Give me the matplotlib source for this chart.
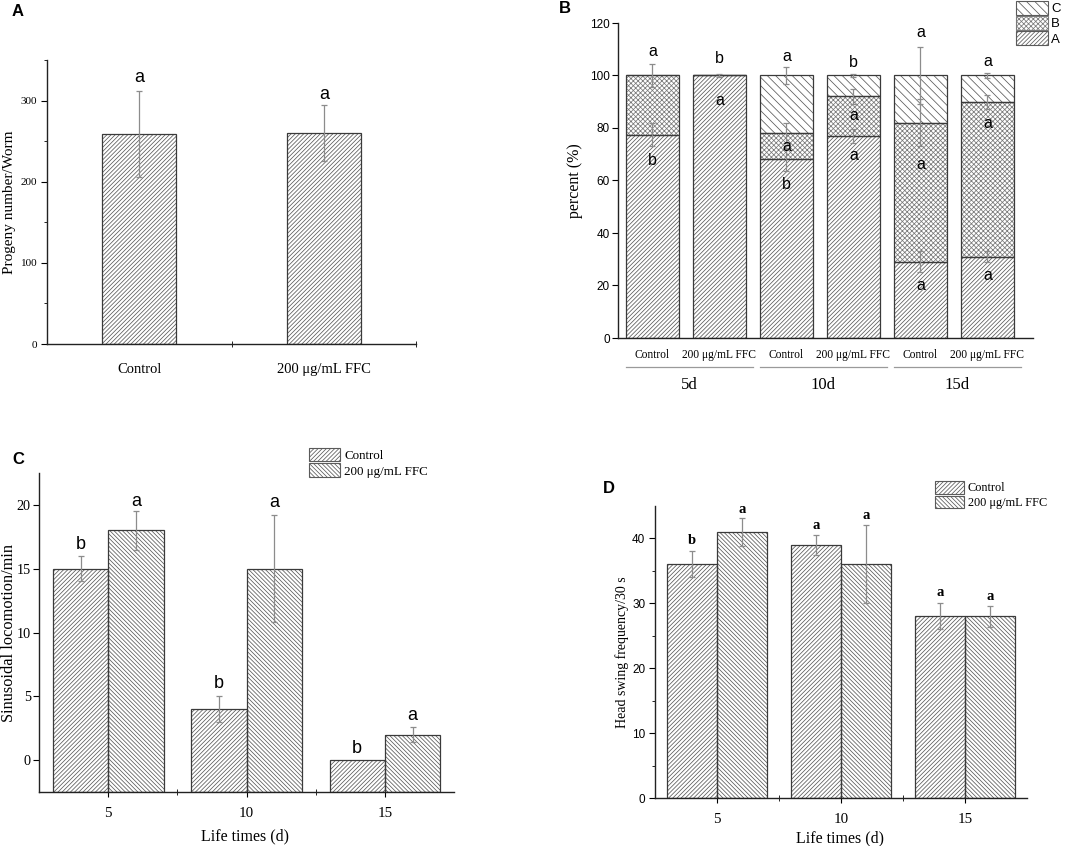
import matplotlib
matplotlib.use("Agg")
import matplotlib.pyplot as plt
from matplotlib.patches import Patch
from matplotlib.ticker import FixedLocator
import matplotlib.transforms as mtransforms

SERIF = "Liberation Serif"
SANS = "Liberation Sans"
plt.rcParams["font.family"] = [SERIF, "DejaVu Serif"]
plt.rcParams["hatch.linewidth"] = 0.55

HATCH_COL = "#5a5a5a"
CROSS_COL = "#7a7a7a"
EDGE_COL = "#3a3a3a"
ERR_COL = "#8c8c8c"

H_FWD = "////////"
H_BACK = "\\\\\\\\\\\\\\\\"
H_CROSS = "xxxxxxx"
H_BACK_WIDE = "\\\\\\\\"

# ---------------- data ----------------
# A: progeny
a_groups = ["Control", "200 μg/mL FFC"]
a_progeny = [259, 260]
a_err = [53, 34]
a_letters = ["a", "a"]
a_letter_y = [328, 307]

# B: stacked percent
b_labels = ["Control", "200 μg/mL FFC"] * 3
b_days = ["5d", "10d", "15d"]
b_A = [77.4, 100, 68, 77, 29, 31]
b_B = [22.6, 0, 10, 15, 53, 59]
b_C = [0, 0, 22, 8, 18, 10]
b_err_A = [4.4, 0.4, 4.2, 2.8, 4.0, 2.2]
b_err_B = [4.2, 0, 3.8, 2.8, 9.0, 2.7]
b_err_C = [0, 0, 3.3, 0.5, 11.0, 1.0]
b_letters = [
    [(109, "a"), (67.8, "b")],
    [(106.5, "b"), (90.4, "a")],
    [(107.3, "a"), (72.9, "a"), (58.3, "b")],
    [(105, "b"), (84.6, "a"), (69.4, "a")],
    [(116.2, "a"), (66.2, "a"), (20.1, "a")],
    [(105.4, "a"), (81.8, "a"), (23.9, "a")],
]

# C: sinusoidal locomotion
days = [5, 10, 15]
c_control = [15, 4, 0]
c_control_err = [1, 1, 0]
c_ffc = [18, 15, 2]
c_ffc_err = [1.55, 4.2, 0.6]
c_let_control = ["b", "b", "b"]
c_let_control_y = [16.9, 6.0, 0.9]
c_let_ffc = ["a", "a", "a"]
c_let_ffc_y = [20.3, 20.2, 3.5]

# D: head swing
d_control = [36, 39, 28]
d_control_err = [2, 1.5, 2]
d_ffc = [41, 36, 28]
d_ffc_err = [2.1, 6, 1.6]
d_let_control = ["b", "a", "a"]
d_let_control_y = [39.7, 42.0, 31.6]
d_let_ffc = ["a", "a", "a"]
d_let_ffc_y = [44.4, 43.5, 31.1]

W, H = 1069, 846
fig = plt.figure(figsize=(W / 100, H / 100), dpi=100)


def px_axes(left, top, right, bottom):
    return fig.add_axes([left / W, 1 - bottom / H, (right - left) / W, (bottom - top) / H])


def hbar(ax, x, h, width, hatch, bottom=0, hcol=HATCH_COL):
    ax.bar(x, h, width, bottom=bottom, color="white", edgecolor=hcol,
           hatch=hatch, linewidth=0, zorder=1)
    ax.bar(x, h, width, bottom=bottom, fill=False, edgecolor=EDGE_COL,
           linewidth=0.9, zorder=2)


def errs(ax, x, y, e):
    ax.errorbar(x, y, yerr=e, fmt="none", ecolor=ERR_COL, elinewidth=0.9,
                capsize=2.5, capthick=0.9, zorder=3)


def style(ax):
    for s in ("top", "right"):
        ax.spines[s].set_visible(False)
    for s in ("left", "bottom"):
        ax.spines[s].set_linewidth(1.0)
        ax.spines[s].set_color("#222222")


# ---------------- A ----------------
ax = px_axes(47, 60, 416, 344)
style(ax)
xa = list(range(len(a_groups)))
hbar(ax, xa, a_progeny, 0.4, H_FWD)
errs(ax, xa, a_progeny, a_err)
for x, y, t in zip(xa, a_letter_y, a_letters):
    ax.text(x, y, t, ha="center", va="center", family=SANS, fontsize=13)
ax.set_xlim(-0.5, 1.5)
ax.set_ylim(0, 350)
ax.set_xticks(xa)
ax.set_xticklabels(a_groups, fontsize=10.5)
ax.xaxis.set_minor_locator(FixedLocator([0.5, 1.5]))
ax.tick_params(axis="x", which="major", length=0, pad=14)
ax.tick_params(axis="x", which="minor", length=5, direction="inout")
ax.set_yticks([0, 100, 200, 300])
ax.yaxis.set_minor_locator(FixedLocator([50, 150, 250, 350]))
ax.tick_params(axis="y", which="major", length=4, labelsize=8, pad=3)
ax.tick_params(axis="y", which="minor", length=2)
ax.set_ylabel("Progeny number/Worm", fontsize=11)
ax.yaxis.set_label_coords(-0.083, 0.5)
fig.text(12 / W, 1 - 4 / H, "A", family=SANS, fontweight="bold", fontsize=12, va="top")

# ---------------- B ----------------
ax = px_axes(618, 23, 1033, 338)
style(ax)
xb = list(range(len(b_labels)))
top_A = b_A
top_B = [a + b for a, b in zip(b_A, b_B)]
top_C = [a + b + c for a, b, c in zip(b_A, b_B, b_C)]
hbar(ax, xb, b_A, 0.8, H_FWD)
hbar(ax, xb, b_B, 0.8, H_CROSS, bottom=b_A, hcol=CROSS_COL)
hbar(ax, xb, b_C, 0.8, H_BACK_WIDE, bottom=top_B)
for tops, e in ((top_A, b_err_A), (top_B, b_err_B), (top_C, b_err_C)):
    xs = [x for x, v in zip(xb, e) if v > 0]
    ys = [t for t, v in zip(tops, e) if v > 0]
    es = [v for v in e if v > 0]
    errs(ax, xs, ys, es)
for x, lets in zip(xb, b_letters):
    for y, t in lets:
        ax.text(x, y, t, ha="center", va="center", family=SANS, fontsize=11.5, zorder=4)
ax.set_xlim(-0.515, 5.68)
ax.set_ylim(0, 120)
ax.set_yticks(range(0, 121, 20))
ax.tick_params(axis="y", length=4, labelsize=8.5, pad=2)
for lab in ax.get_yticklabels():
    lab.set_family(SANS)
ax.set_xticks(xb)
ax.set_xticklabels(b_labels, fontsize=8.3)
ax.tick_params(axis="x", length=0, pad=8)
ax.set_ylabel("percent (%)", fontsize=11.5)
ax.yaxis.set_label_coords(-0.084, 0.5)
trans = mtransforms.blended_transform_factory(ax.transData, ax.transAxes)
for g, d in enumerate(b_days):
    x0 = 2 * g - 0.4
    x1 = 2 * g + 1.5
    ax.plot([x0, x1], [-0.092, -0.092], transform=trans, color="#9a9a9a",
            lw=0.9, clip_on=False)
    ax.text((x0 + x1) / 2, -0.125, d, transform=trans, ha="center", va="top",
            fontsize=12)
legend_handles = [
    Patch(facecolor="white", edgecolor=HATCH_COL, hatch=H_BACK_WIDE, lw=0.8),
    Patch(facecolor="white", edgecolor=CROSS_COL, hatch=H_CROSS, lw=0.8),
    Patch(facecolor="white", edgecolor=HATCH_COL, hatch=H_FWD, lw=0.8),
]
fig.legend(legend_handles, ["C", "B", "A"], loc="upper left",
           bbox_to_anchor=(1016 / W, 1 - 1 / H), frameon=False,
           prop={"family": SANS, "size": 9.5}, handlelength=2.4,
           handleheight=1.25, labelspacing=0.05, borderpad=0,
           borderaxespad=0, handletextpad=0.25)
fig.text(559 / W, 1 - 1 / H, "B", family=SANS, fontweight="bold", fontsize=12, va="top")

# ---------------- C and D ----------------


def grouped(ax, ctrl, ctrl_err, ffc, ffc_err, lc, lcy, lf, lfy, let_font, base):
    # bars rise from the bottom of the axis, as in the original software
    xc = [d - 1 for d in days]
    xf = [d + 1 for d in days]
    hbar(ax, xc, [v - base for v in ctrl], 2, H_FWD, bottom=base)
    hbar(ax, xf, [v - base for v in ffc], 2, H_BACK, bottom=base)
    ce = [(x, y, e) for x, y, e in zip(xc, ctrl, ctrl_err) if e > 0]
    errs(ax, [c[0] for c in ce], [c[1] for c in ce], [c[2] for c in ce])
    errs(ax, xf, ffc, ffc_err)
    for x, y, t in zip(xc, lcy, lc):
        ax.text(x, y, t, ha="center", va="center", zorder=4, **let_font)
    for x, y, t in zip(xf, lfy, lf):
        ax.text(x, y, t, ha="center", va="center", zorder=4, **let_font)
    ax.set_xlim(2.5, 17.5)
    ax.set_xticks(days)
    ax.xaxis.set_minor_locator(FixedLocator([7.5, 12.5]))
    ax.tick_params(axis="x", which="major", length=3.5, labelsize=10.8, pad=7.5)
    ax.tick_params(axis="x", which="minor", length=5, direction="inout")
    ax.set_xlabel("Life times (d)", fontsize=11.5)


def grp_legend(anchor, size):
    hs = [
        Patch(facecolor="white", edgecolor=HATCH_COL, hatch=H_FWD, lw=0.8),
        Patch(facecolor="white", edgecolor=HATCH_COL, hatch=H_BACK, lw=0.8),
    ]
    fig.legend(hs, ["Control", "200 μg/mL FFC"], loc="upper left",
               bbox_to_anchor=anchor, frameon=False, prop={"size": size},
               handlelength=2.4, handleheight=1.2, labelspacing=0.1,
               borderpad=0, borderaxespad=0, handletextpad=0.3)


C_YMIN = -2.5
ax = px_axes(39, 473, 454, 792)
style(ax)
grouped(ax, c_control, c_control_err, c_ffc, c_ffc_err,
        c_let_control, c_let_control_y, c_let_ffc, c_let_ffc_y,
        {"family": SANS, "fontsize": 13}, C_YMIN)
ax.set_ylim(C_YMIN, 22.5)
ax.set_yticks([0, 5, 10, 15, 20])
ax.tick_params(axis="y", length=4, labelsize=10.2, pad=2)
ax.set_ylabel("Sinusoidal locomotion/min", fontsize=11.8)
ax.yaxis.set_label_coords(-0.054, 0.5)
ax.xaxis.set_label_coords(0.496, -0.113)
grp_legend((309 / W, 1 - 448 / H), 9.4)
fig.text(12 / W, 1 - 452 / H, "C", family=SANS, fontweight="bold", fontsize=12, va="top")

ax = px_axes(655, 506, 1027, 798)
style(ax)
grouped(ax, d_control, d_control_err, d_ffc, d_ffc_err,
        d_let_control, d_let_control_y, d_let_ffc, d_let_ffc_y,
        {"fontsize": 10.5, "fontweight": "bold"}, 0)
ax.set_ylim(0, 45)
ax.set_yticks([0, 10, 20, 30, 40])
ax.yaxis.set_minor_locator(FixedLocator([5, 15, 25, 35]))
ax.tick_params(axis="y", which="major", length=4, labelsize=8.5, pad=3)
ax.tick_params(axis="y", which="minor", length=2)
for lab in ax.get_yticklabels():
    lab.set_family(SANS)
ax.set_ylabel("Head swing frequency/30 s", fontsize=10)
ax.yaxis.set_label_coords(-0.07, 0.5)
ax.xaxis.set_label_coords(0.497, -0.11)
grp_legend((935 / W, 1 - 481 / H), 8.8)
fig.text(603 / W, 1 - 481 / H, "D", family=SANS, fontweight="bold", fontsize=12, va="top")

fig.savefig("out.png", dpi=100)
